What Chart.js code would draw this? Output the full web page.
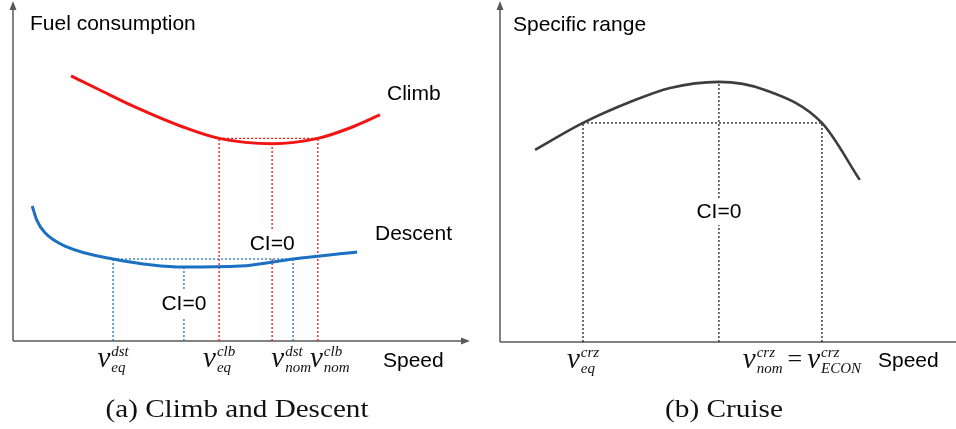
<!DOCTYPE html>
<html lang="en">
<head>
  <meta charset="UTF-8" />
  <title>Climb / Descent and Cruise speeds</title>
  <script src="https://cdn.jsdelivr.net/npm/chart.js"></script>
  <style>
    html, body { margin: 0; padding: 0; background: #fff; }
    #wrap { position: relative; width: 956px; height: 429px; overflow: hidden; }
    canvas { position: absolute; top: 0; }
    #left { left: 0; }
    #right { left: 478px; }
  </style>
</head>
<body>
  <div id="wrap">
    <canvas id="left" width="478" height="429"></canvas>
    <canvas id="right" width="478" height="429"></canvas>
  </div>

  <script>
    // ---- (a) climb and descent: fuel consumption vs speed (arbitrary units) ----
    const climbSpeed = [1.27, 1.90, 2.63, 3.72, 4.51, 5.67, 6.67, 7.37, 8.03];
    const climbFuel  = [7.89, 7.47, 6.99, 6.37, 6.03, 5.87, 6.03, 6.34, 6.73];
    const descentSpeed = [0.42, 0.52, 0.70, 1.18, 2.19, 3.74, 4.97, 6.13, 7.53];
    const descentFuel  = [4.02, 3.60, 3.22, 2.80, 2.44, 2.20, 2.23, 2.44, 2.65];

    // reference speeds: v_eq, v(CI=0), v_nom
    const climbRefSpeed = [4.51, 5.67, 6.67];
    const climbRefFuel  = [6.03, 5.87, 6.03];
    const descentRefSpeed = [2.19, 3.74, 6.13];
    const descentRefFuel  = [2.44, 2.20, 2.44];

    const leftTickSpeed = [2.19, 4.51, 6.13, 6.67];
    const leftTickSup = ['dst', 'clb', 'dst', 'clb'];
    const leftTickSub = ['eq', 'eq', 'nom', 'nom'];

    // ---- (b) cruise: specific range vs speed ----
    const cruiseSpeed = [0.77, 1.82, 2.85, 3.73, 4.80, 5.81, 7.06, 7.89];
    const cruiseRange = [5.70, 6.50, 7.12, 7.54, 7.72, 7.48, 6.50, 4.81];
    const cruiseRefSpeed = [1.82, 4.80, 7.06];
    const cruiseRefRange = [6.50, 7.72, 6.50];

    const rightTickSpeed = [1.82, 7.06];

    const RED = '#f21313';
    const BLUE = '#1b70c2';
    const GREY = '#3d3d3d';
    const AXIS = '#5a5a5a';
    const SANS = '21px "Liberation Sans", Arial, sans-serif';

    function curve(xs, ys, color, width) {
      return {
        data: xs.map((x, i) => ({ x: x, y: ys[i] })),
        showLine: true, borderColor: color, borderWidth: width, pointRadius: 0,
        cubicInterpolationMode: 'monotone', fill: false, order: 0
      };
    }
    function dotted(points, color) {
      return {
        data: points, showLine: true, borderColor: color, borderWidth: 1.3,
        borderDash: [2, 2], pointRadius: 0, tension: 0, fill: false, order: 1
      };
    }
    function refLines(xs, ys, color) {
      const sets = xs.map((x, i) => dotted([{ x: x, y: 0 }, { x: x, y: ys[i] }], color));
      sets.push(dotted([{ x: xs[0], y: ys[0] }, { x: xs[xs.length - 1], y: ys[ys.length - 1] }], color));
      return sets;
    }

    // math-ish labels like v_eq^dst
    const MATH_BASE = 'italic 29px "Liberation Serif", serif';
    const MATH_SCRIPT = 'italic 15px "Liberation Serif", serif';
    const MATH_OP = '26px "Liberation Serif", serif';
    function termWidth(ctx, t) {
      if (t.op) { ctx.font = MATH_OP; return ctx.measureText(t.op).width + 10; }
      ctx.font = MATH_BASE;
      const b = ctx.measureText(t.b).width;
      ctx.font = MATH_SCRIPT;
      return b + 1 + Math.max(ctx.measureText(t.sup).width, ctx.measureText(t.sub).width);
    }
    function drawMath(ctx, terms, cx, base) {
      const widths = terms.map(t => termWidth(ctx, t));
      let x = cx - widths.reduce((a, b) => a + b, 0) / 2;
      ctx.textAlign = 'left';
      ctx.textBaseline = 'alphabetic';
      ctx.fillStyle = '#111';
      terms.forEach((t, i) => {
        if (t.op) {
          ctx.font = MATH_OP;
          ctx.fillText(t.op, x + 5, base - 1);
        } else {
          ctx.font = MATH_BASE;
          ctx.fillText(t.b, x, base);
          const bw = ctx.measureText(t.b).width;
          ctx.font = MATH_SCRIPT;
          ctx.fillText(t.sup, x + bw + 1, base - 11);
          ctx.fillText(t.sub, x + bw + 1, base + 5);
        }
        x += widths[i];
      });
    }

    function caption(ctx, text, cx, base, width) {
      ctx.save();
      ctx.font = '26px "Liberation Serif", serif';
      ctx.fillStyle = '#111';
      ctx.textAlign = 'left';
      ctx.textBaseline = 'alphabetic';
      const w = ctx.measureText(text).width;
      ctx.translate(cx - width / 2, base);
      ctx.scale(width / w, 1);
      ctx.fillText(text, 0, 0);
      ctx.restore();
    }

    function boxedText(ctx, text, x, y) {
      ctx.font = SANS;
      const w = ctx.measureText(text).width;
      ctx.fillStyle = '#fff';
      ctx.fillRect(x - w / 2 - 2, y - 13, w + 4, 27);
      ctx.fillStyle = '#000';
      ctx.textAlign = 'center';
      ctx.textBaseline = 'middle';
      ctx.fillText(text, x, y + 1);
    }

    function axesPlugin(xArrow) {
      return {
        id: 'axes',
        beforeDatasetsDraw(chart) {
          const { ctx, chartArea: a } = chart;
          ctx.save();
          ctx.strokeStyle = AXIS;
          ctx.fillStyle = AXIS;
          ctx.lineWidth = 1.5;
          ctx.beginPath();
          ctx.moveTo(a.left, a.bottom);
          ctx.lineTo(a.left, a.top + 2);
          ctx.moveTo(a.left, a.bottom);
          ctx.lineTo(xArrow ? a.right - 5 : a.right, a.bottom);
          ctx.stroke();
          ctx.beginPath();
          ctx.moveTo(a.left, a.top - 4);
          ctx.lineTo(a.left - 3.5, a.top + 5);
          ctx.lineTo(a.left + 3.5, a.top + 5);
          ctx.fill();
          if (xArrow) {
            ctx.beginPath();
            ctx.moveTo(a.right, a.bottom);
            ctx.lineTo(a.right - 9, a.bottom - 3.5);
            ctx.lineTo(a.right - 9, a.bottom + 3.5);
            ctx.fill();
          }
          ctx.restore();
        }
      };
    }

    const baseOptions = (padding) => ({
      responsive: false,
      animation: false,
      events: [],
      layout: { padding: padding },
      plugins: { legend: { display: false }, tooltip: { enabled: false } },
      scales: {
        x: { type: 'linear', min: 0, max: 10, display: false },
        y: { type: 'linear', min: 0, max: 10, display: false }
      }
    });

    // (a) Climb and Descent
    new Chart(document.getElementById('left'), {
      type: 'scatter',
      data: {
        datasets: [
          curve(climbSpeed, climbFuel, RED, 3),
          curve(descentSpeed, descentFuel, BLUE, 3),
          ...refLines(climbRefSpeed, climbRefFuel, RED),
          ...refLines(descentRefSpeed, descentRefFuel, BLUE)
        ]
      },
      options: baseOptions({ left: 13, right: 8, top: 5, bottom: 88 }),
      plugins: [axesPlugin(true), {
        id: 'labelsA',
        afterDatasetsDraw(chart) {
          const { ctx, chartArea: a, scales: { x } } = chart;
          ctx.save();
          boxedText(ctx, 'CI=0', x.getPixelForValue(climbRefSpeed[1]), 243);
          boxedText(ctx, 'CI=0', x.getPixelForValue(descentRefSpeed[1]), 303);
          ctx.font = SANS;
          ctx.fillStyle = '#000';
          ctx.textAlign = 'left';
          ctx.textBaseline = 'alphabetic';
          ctx.fillText('Fuel consumption', a.left + 17, 30);
          ctx.fillText('Climb', 387, 100);
          ctx.fillText('Descent', 375, 240);
          ctx.fillText('Speed', 383, a.bottom + 26);
          const nudge = [0, 0, -2, 12];
          leftTickSpeed.forEach((s, i) => {
            drawMath(ctx, [{ b: 'v', sup: leftTickSup[i], sub: leftTickSub[i] }],
              x.getPixelForValue(s) + nudge[i], a.bottom + 26);
          });
          caption(ctx, '(a) Climb and Descent', 237, 417, 263);
          ctx.restore();
        }
      }]
    });

    // (b) Cruise
    new Chart(document.getElementById('right'), {
      type: 'scatter',
      data: {
        datasets: [
          curve(cruiseSpeed, cruiseRange, GREY, 2.6),
          ...refLines(cruiseRefSpeed, cruiseRefRange, '#222')
        ]
      },
      options: baseOptions({ left: 22, right: 0, top: 5, bottom: 87 }),
      plugins: [axesPlugin(false), {
        id: 'labelsB',
        afterDatasetsDraw(chart) {
          const { ctx, chartArea: a, scales: { x } } = chart;
          ctx.save();
          boxedText(ctx, 'CI=0', x.getPixelForValue(cruiseRefSpeed[1]), 211);
          ctx.font = SANS;
          ctx.fillStyle = '#000';
          ctx.textAlign = 'left';
          ctx.textBaseline = 'alphabetic';
          ctx.fillText('Specific range', a.left + 13, 31);
          ctx.fillText('Speed', 400, a.bottom + 25);
          drawMath(ctx, [{ b: 'v', sup: 'crz', sub: 'eq' }],
            x.getPixelForValue(rightTickSpeed[0]), a.bottom + 26);
          drawMath(ctx, [{ b: 'v', sup: 'crz', sub: 'nom' }, { op: '=' }, { b: 'v', sup: 'crz', sub: 'ECON' }],
            x.getPixelForValue(rightTickSpeed[1]) - 20, a.bottom + 26);
          caption(ctx, '(b) Cruise', 246, 417, 118);
          ctx.restore();
        }
      }]
    });
  </script>
</body>
</html>
